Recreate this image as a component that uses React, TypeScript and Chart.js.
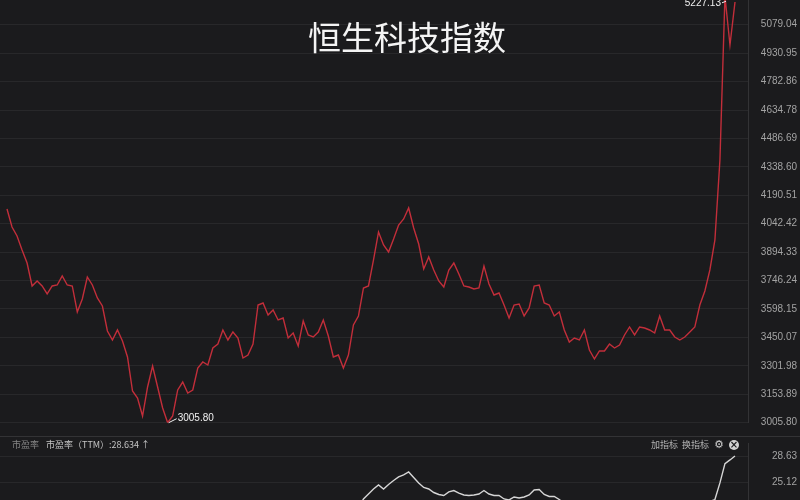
import React, { useEffect, useRef } from 'react'
import { Chart, registerables } from 'chart.js'

Chart.register(...registerables)

// 恒生科技指数 daily close
const PRICE = [
  4119.2, 4025.4, 3978.5, 3905.6, 3837.8, 3718.0, 3744.1, 3718.0, 3676.3, 3718.0,
  3723.2, 3770.1, 3723.2, 3718.0, 3582.5, 3650.3, 3764.9, 3723.2, 3655.5, 3613.8,
  3483.6, 3436.7, 3488.8, 3431.5, 3348.1, 3171.0, 3134.5, 3040.7, 3191.8, 3301.2,
  3191.8, 3082.4, 3005.8, 3040.7, 3176.2, 3217.8, 3160.5, 3176.2, 3290.8, 3322.0,
  3306.4, 3395.0, 3415.8, 3488.8, 3436.7, 3478.3, 3447.1, 3342.9, 3358.5, 3415.8,
  3619.0, 3629.4, 3566.9, 3593.0, 3540.9, 3551.3, 3447.1, 3473.1, 3405.4, 3535.7,
  3462.7, 3452.3, 3478.3, 3540.9, 3457.5, 3348.1, 3358.5, 3290.8, 3358.5, 3514.8,
  3561.7, 3707.6, 3718.0, 3853.5, 3999.3, 3931.6, 3895.1, 3962.9, 4035.8, 4067.1,
  4124.4, 4020.2, 3936.8, 3806.6, 3869.1, 3801.4, 3744.1, 3712.8, 3801.4, 3837.8,
  3780.5, 3718.0, 3712.8, 3702.4, 3707.6, 3822.2, 3728.4, 3671.1, 3681.5, 3619.0,
  3551.3, 3619.0, 3624.2, 3561.7, 3603.4, 3718.0, 3723.2, 3629.4, 3619.0, 3561.7,
  3582.5, 3488.8, 3426.2, 3447.1, 3436.7, 3488.8, 3384.6, 3337.7, 3379.4, 3379.4,
  3415.8, 3395.0, 3410.6, 3462.7, 3504.4, 3462.7, 3504.4, 3499.2, 3488.8, 3473.1,
  3561.7, 3488.8, 3488.8, 3452.3, 3436.7, 3452.3, 3478.3, 3504.4, 3619.0, 3692.0,
  3801.4, 3957.7, 4374.5, 5227.13, 4973.6, 5197.6,
]

// 市盈率（TTM）
const PE_TTM = [
  22.1, 21.7, 21.5, 21.2, 20.9, 20.4, 20.5, 20.4, 20.2, 20.4,
  20.4, 20.6, 20.4, 20.4, 19.8, 20.1, 20.6, 20.4, 20.1, 19.9,
  19.4, 19.2, 19.4, 19.2, 18.8, 18.1, 17.9, 17.5, 18.2, 18.6,
  18.2, 17.7, 17.4, 17.5, 18.1, 18.3, 18.0, 18.1, 18.6, 18.8,
  19.3, 20.1, 20.3, 20.9, 20.5, 20.8, 20.6, 19.7, 19.8, 20.3,
  22.1, 22.2, 21.6, 21.8, 21.4, 21.5, 20.6, 20.8, 20.2, 21.3,
  20.7, 20.6, 20.8, 21.4, 20.6, 19.7, 19.8, 19.2, 19.8, 21.2,
  21.6, 22.83, 23.5, 24.18, 24.72, 24.18, 24.78, 25.32, 25.8, 26.07,
  26.47, 25.73, 24.99, 24.38, 24.18, 23.7, 23.43, 23.3, 23.78, 23.97,
  23.63, 23.37, 23.3, 23.37, 23.5, 23.97, 23.5, 23.3, 23.3, 22.83,
  22.7, 23.1, 22.96, 23.1, 23.37, 24.04, 24.1, 23.43, 23.16, 23.16,
  22.76, 22.2, 21.7, 21.9, 21.8, 22.2, 21.5, 21.1, 21.4, 21.4,
  21.7, 21.5, 21.7, 22.0, 22.3, 22.0, 22.3, 22.2, 22.1, 22.0,
  22.5, 22.1, 22.1, 21.9, 21.8, 21.9, 22.0, 22.2, 22.4, 22.5,
  22.5, 22.75, 25.0, 27.6, 28.1, 28.634,
]

const DAYS = PRICE.map((_, i) => i)

const PRICE_TICKS = [
  3005.8, 3153.89, 3301.98, 3450.07, 3598.15, 3746.24, 3894.33, 4042.42,
  4190.51, 4338.6, 4486.69, 4634.78, 4782.86, 4930.95, 5079.04, 5227.13,
]
const PE_TICKS = [25.12, 28.63]

const BG = '#1b1b1d'
const GRID = '#28282a'
const TICK_COLOR = '#a3a3a3'
const TICK_FONT = { family: '"Liberation Sans", Arial, sans-serif', size: 10 }

const extremaLabels = {
  id: 'extremaLabels',
  afterDatasetsDraw(chart: Chart) {
    const meta = chart.getDatasetMeta(0)
    const data = chart.data.datasets[0].data as number[]
    let hi = 0
    let lo = 0
    data.forEach((v, i) => {
      if (v > data[hi]) hi = i
      if (v < data[lo]) lo = i
    })
    const ctx = chart.ctx
    ctx.save()
    ctx.font = '10px "Liberation Sans", Arial, sans-serif'
    ctx.fillStyle = '#f0f0f0'
    ctx.strokeStyle = '#f0f0f0'
    ctx.lineWidth = 1
    ctx.textBaseline = 'middle'

    const pLo = meta.data[lo] as any
    ctx.beginPath()
    ctx.moveTo(pLo.x + 1, pLo.y)
    ctx.lineTo(pLo.x + 9, pLo.y - 4)
    ctx.stroke()
    ctx.textAlign = 'left'
    ctx.fillText(data[lo].toFixed(2), pLo.x + 10, pLo.y - 4.5)

    const pHi = meta.data[hi] as any
    ctx.beginPath()
    ctx.moveTo(pHi.x - 3, pHi.y + 6.5)
    ctx.lineTo(pHi.x + 1, pHi.y + 5)
    ctx.stroke()
    ctx.textAlign = 'right'
    ctx.fillText(data[hi].toFixed(2), pHi.x - 4, pHi.y + 7)
    ctx.restore()
  },
}

function yAxis(ticks: number[], min: number, max: number) {
  return {
    position: 'right' as const,
    min,
    max,
    afterBuildTicks: (scale: any) => {
      scale.ticks = ticks.map((value) => ({ value }))
    },
    afterFit: (scale: any) => {
      scale.width = 49
    },
    grid: { color: GRID, drawTicks: false },
    border: { display: true, color: '#333335' },
    ticks: {
      color: TICK_COLOR,
      font: TICK_FONT,
      crossAlign: 'far' as const,
      padding: 0,
      callback: (v: any) => Number(v).toFixed(2),
    },
  }
}

const X_RANGE = { min: -1.394, max: 147.59 }

export default function App() {
  const mainRef = useRef<HTMLCanvasElement>(null)
  const peRef = useRef<HTMLCanvasElement>(null)

  useEffect(() => {
    if (!mainRef.current || !peRef.current) return

    const main = new Chart(mainRef.current, {
      type: 'line',
      data: {
        labels: DAYS,
        datasets: [{
          data: PRICE,
          borderColor: '#c22e3a',
          borderWidth: 1.4,
          pointRadius: 0,
          tension: 0,
        }],
      },
      options: {
        animation: false,
        responsive: true,
        maintainAspectRatio: false,
        layout: { padding: { top: 6.3, bottom: 14.3, left: 0, right: 3 } },
        plugins: { legend: { display: false }, tooltip: { enabled: false } },
        scales: {
          x: { type: 'linear', display: false, ...X_RANGE },
          y: yAxis(PRICE_TICKS, 3005.8, 5227.13),
        },
      },
      plugins: [extremaLabels],
    })

    const pe = new Chart(peRef.current, {
      type: 'line',
      data: {
        labels: DAYS,
        datasets: [{
          data: PE_TTM,
          borderColor: '#d6d6d6',
          borderWidth: 1.4,
          pointRadius: 0,
          tension: 0,
        }],
      },
      options: {
        animation: false,
        responsive: true,
        maintainAspectRatio: false,
        layout: { padding: { top: 6, bottom: 6, left: 0, right: 3 } },
        plugins: { legend: { display: false }, tooltip: { enabled: false } },
        scales: {
          x: { type: 'linear', display: false, ...X_RANGE },
          y: yAxis(PE_TICKS, 22.69, 30.385),
        },
      },
    })

    return () => {
      main.destroy()
      pe.destroy()
    }
  }, [])

  const cjk = '"Noto Sans CJK SC", "Noto Sans", sans-serif'

  return (
    <div style={{ position: 'fixed', left: 0, top: 0, width: 800, height: 500, background: BG, overflow: 'hidden' }}>
      <div style={{ position: 'absolute', left: 0, top: -10, width: 800, height: 447 }}>
        <canvas ref={mainRef} />
      </div>
      <div
        style={{
          position: 'absolute', left: 308, top: 20, fontSize: 33, lineHeight: '33px',
          color: '#f4f4f4', fontFamily: cjk, whiteSpace: 'nowrap',
        }}
      >
        恒生科技指数
      </div>

      <div style={{ position: 'absolute', left: 0, top: 436, width: 800, height: 1, background: '#333335' }} />
      <div style={{ position: 'absolute', left: 0, top: 437, width: 800, height: 69 }}>
        <canvas ref={peRef} />
      </div>
      <div
        style={{
          position: 'absolute', left: 12, top: 439, fontSize: 9, lineHeight: '12px',
          color: '#858585', fontFamily: cjk, whiteSpace: 'nowrap',
        }}
      >
        市盈率
        <span style={{ color: '#c4c4c4', marginLeft: 7 }}>市盈率（TTM）:28.634 ↑</span>
      </div>
      <div
        style={{
          position: 'absolute', left: 651, top: 439, fontSize: 9, lineHeight: '12px',
          color: '#b4b4b4', fontFamily: cjk, whiteSpace: 'nowrap', display: 'flex', alignItems: 'center',
        }}
      >
        <span>加指标</span>
        <span style={{ marginLeft: 4 }}>换指标</span>
        <span style={{ marginLeft: 5, fontSize: 11, color: '#cfcfcf', fontFamily: '"DejaVu Sans", sans-serif' }}>⚙</span>
        <span
          style={{
            marginLeft: 5, width: 10, height: 10, borderRadius: '50%', background: '#d2d2d2',
            color: BG, fontSize: 10, lineHeight: '10px', textAlign: 'center',
            fontFamily: '"DejaVu Sans", sans-serif', fontWeight: 700,
          }}
        >
          ×
        </span>
      </div>
    </div>
  )
}
